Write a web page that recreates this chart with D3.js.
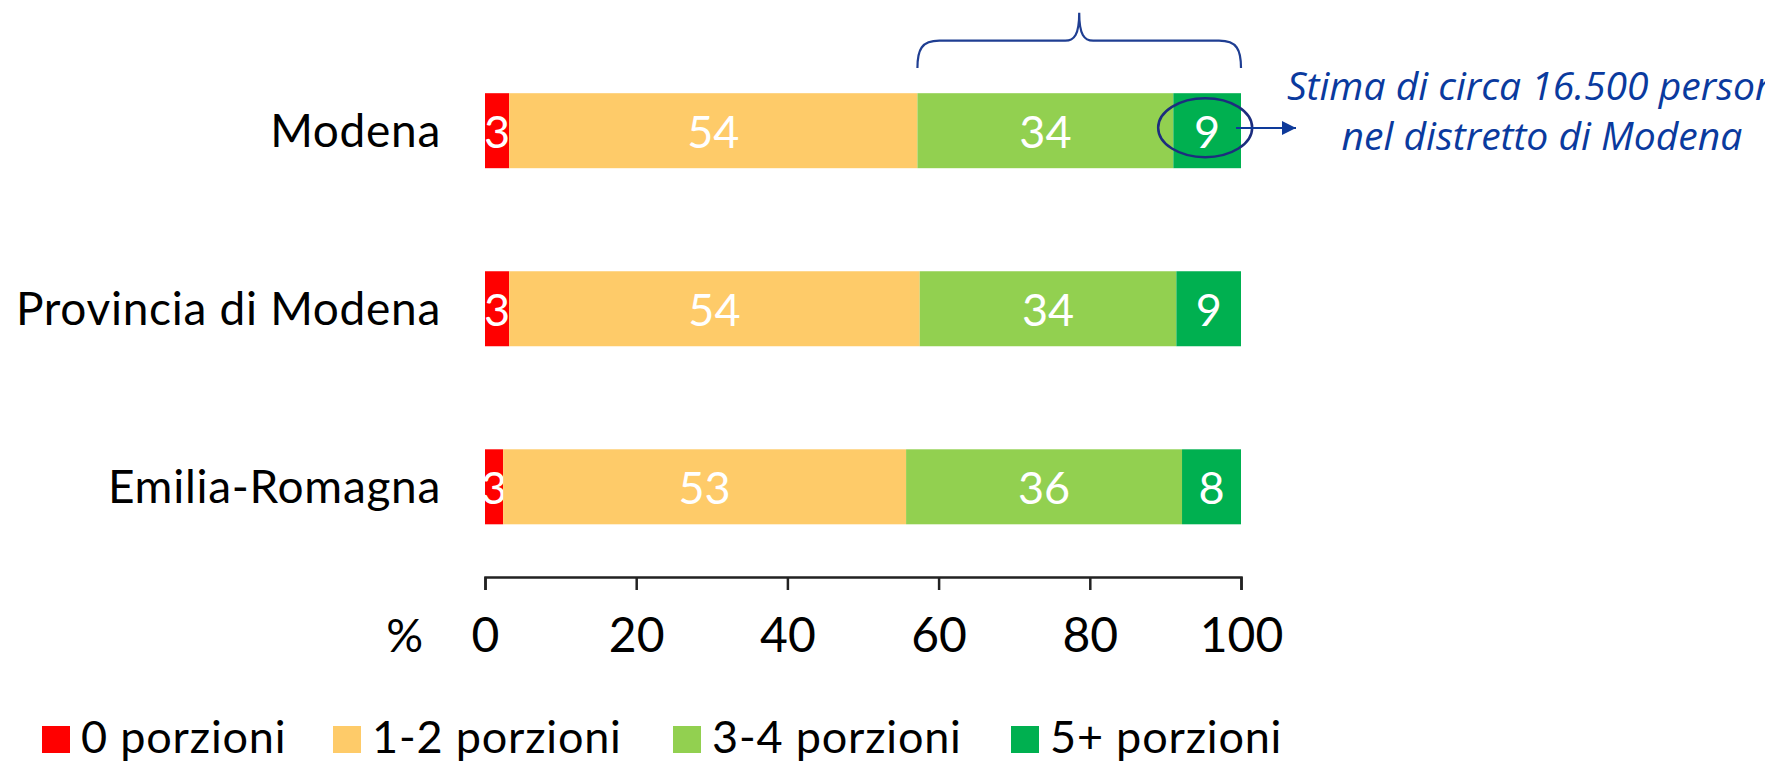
<!DOCTYPE html>
<html><head><meta charset="utf-8">
<script src="https://cdn.jsdelivr.net/npm/d3@7"></script>
<style>
html,body{margin:0;padding:0;background:#fff;}
svg{display:block;}
</style></head>
<body>
<svg id="chart" width="1765" height="763"></svg>
<script>
// ---- data ----
const categories = ["Modena", "Provincia di Modena", "Emilia-Romagna"];
const seriesNames = ["0 porzioni", "1-2 porzioni", "3-4 porzioni", "5+ porzioni"];
// estimated segment shares (%)
const zeroPortions = [3.2, 3.2, 2.4];
const oneTwoPortions = [54.0, 54.3, 53.3];
const threeFourPortions = [33.85, 33.95, 36.5];
const fivePlusPortions = [8.95, 8.55, 7.8];
// printed labels
const zeroLabels = ["3", "3", "3"];
const oneTwoLabels = ["54", "54", "53"];
const threeFourLabels = ["34", "34", "36"];
const fivePlusLabels = ["9", "9", "8"];
const tickValues = [0, 20, 40, 60, 80, 100];
const axisUnit = "%";
const noteLines = ["Stima di circa 16.500 persone", "nel distretto di Modena"];

const colors = ["#FF0000", "#FECB69", "#92D050", "#00B050"];
const legendX = [42, 333, 673, 1011];
const series = [zeroPortions, oneTwoPortions, threeFourPortions, fivePlusPortions];
const labels = [zeroLabels, oneTwoLabels, threeFourLabels, fivePlusLabels];

const rows = categories.map((c, i) => {
  const o = {category: c};
  seriesNames.forEach((s, j) => { o[s] = series[j][i]; });
  return o;
});
const stacked = d3.stack().keys(seriesNames)(rows);

const svg = d3.select("#chart");
const FONT = "Lato, 'Open Sans', sans-serif";

const x = d3.scaleLinear().domain([0, 100]).range([485, 1241]);
const y = d3.scalePoint().domain(categories).range([130.7, 486.8]);
const barH = 75;

// bars
const g = svg.append("g");
stacked.forEach((layer, j) => {
  g.selectAll(null).data(layer).enter().append("rect")
    .attr("x", d => x(d[0]))
    .attr("y", d => y(d.data.category) - barH / 2)
    .attr("width", d => x(d[1]) - x(d[0]))
    .attr("height", barH)
    .attr("fill", colors[j]);
  g.selectAll(null).data(layer).enter().append("text")
    .attr("x", d => (x(d[0]) + x(d[1])) / 2)
    .attr("y", d => y(d.data.category) + 17)
    .attr("text-anchor", "middle")
    .attr("fill", "#fff")
    .attr("font-family", FONT)
    .attr("font-size", 45)
    .text((d, i) => labels[j][i]);
});

// category labels
svg.append("g").selectAll("text").data(categories).enter().append("text")
  .attr("x", 441)
  .attr("y", d => y(d) + 16)
  .attr("text-anchor", "end")
  .attr("font-family", FONT)
  .attr("font-size", 46)
  .attr("letter-spacing", 0.7)
  .attr("fill", "#000")
  .text(d => d);

// x axis
const axis = d3.axisBottom(x).tickValues(tickValues).tickSize(13).tickSizeOuter(13).tickPadding(14);
const ax = svg.append("g").attr("transform", "translate(0,577)").call(axis);
ax.select(".domain").attr("stroke", "#222").attr("stroke-width", 2.5);
ax.selectAll(".tick line").attr("stroke", "#222").attr("stroke-width", 2.5);
ax.selectAll(".tick text").attr("font-family", FONT).attr("font-size", 48).attr("fill", "#000")
  .attr("dy", null).attr("y", 75);
svg.append("text").attr("x", 423).attr("y", 652).attr("text-anchor", "end")
  .attr("font-family", FONT).attr("font-size", 46).attr("fill", "#000").text(axisUnit);

// legend
const leg = svg.append("g");
seriesNames.forEach((s, j) => {
  const lx = legendX[j];
  leg.append("rect").attr("x", lx).attr("y", 726).attr("width", 28).attr("height", 27).attr("fill", colors[j]);
  leg.append("text").attr("x", lx + 39).attr("y", 753)
    .attr("font-family", FONT).attr("font-size", 45).attr("letter-spacing", 0.8)
    .attr("fill", "#000").text(s);
});

// annotation: brace over 3-4 and 5+ for Modena
const navy = "#1F3E92";
const bx0 = x(stacked[1][0][1]), bx1 = x(stacked[3][0][1]);
const bm = (bx0 + bx1) / 2, yb = 68, yh = 40.7, yp = 12.7;
const bp = `M${bx0},${yb} C${bx0},${yh + 9} ${bx0 + 4},${yh} ${bx0 + 22},${yh} L${bm - 14},${yh} C${bm - 5},${yh} ${bm},${yh - 6} ${bm},${yp} C${bm},${yh - 6} ${bm + 5},${yh} ${bm + 14},${yh} L${bx1 - 22},${yh} C${bx1 - 4},${yh} ${bx1},${yh + 9} ${bx1},${yb}`;
svg.append("path").attr("d", bp).attr("fill", "none").attr("stroke", navy).attr("stroke-width", 2.2);

// ellipse around the 5+ value
const ex = (x(stacked[3][0][0]) + x(stacked[3][0][1])) / 2 - 2;
const ey = y(categories[0]) - 3;
svg.append("ellipse").attr("cx", ex).attr("cy", ey).attr("rx", 47).attr("ry", 29.5)
  .attr("fill", "none").attr("stroke", "#1C2D7E").attr("stroke-width", 2.5);

// arrow
svg.append("defs").append("marker").attr("id", "ah").attr("viewBox", "0 0 10 10")
  .attr("refX", 10).attr("refY", 5).attr("markerWidth", 16).attr("markerHeight", 14)
  .attr("markerUnits", "userSpaceOnUse").attr("orient", "auto")
  .append("path").attr("d", "M0,0 L10,5 L0,10 Z").attr("fill", "#0E3A9A");
svg.append("line").attr("x1", 1236).attr("x2", 1296).attr("y1", 128).attr("y2", 128)
  .attr("stroke", "#0E3A9A").attr("stroke-width", 2.2).attr("marker-end", "url(#ah)");

// note text
const note = svg.append("g");
const l2 = note.append("text").attr("x", 1542).attr("y", 150).attr("text-anchor", "middle")
  .attr("font-family", "'Open Sans', sans-serif").attr("font-style", "italic")
  .attr("font-size", 36).attr("fill", "#0A3A9E").text(noteLines[1]);
const w = l2.node().getComputedTextLength();
const fs = 36 * 401 / w;
l2.attr("font-size", fs);
note.append("text").attr("x", 1542).attr("y", 100).attr("text-anchor", "middle")
  .attr("font-family", "'Open Sans', sans-serif").attr("font-style", "italic")
  .attr("font-size", fs).attr("fill", "#0A3A9E").text(noteLines[0]);
</script>
</body></html>
